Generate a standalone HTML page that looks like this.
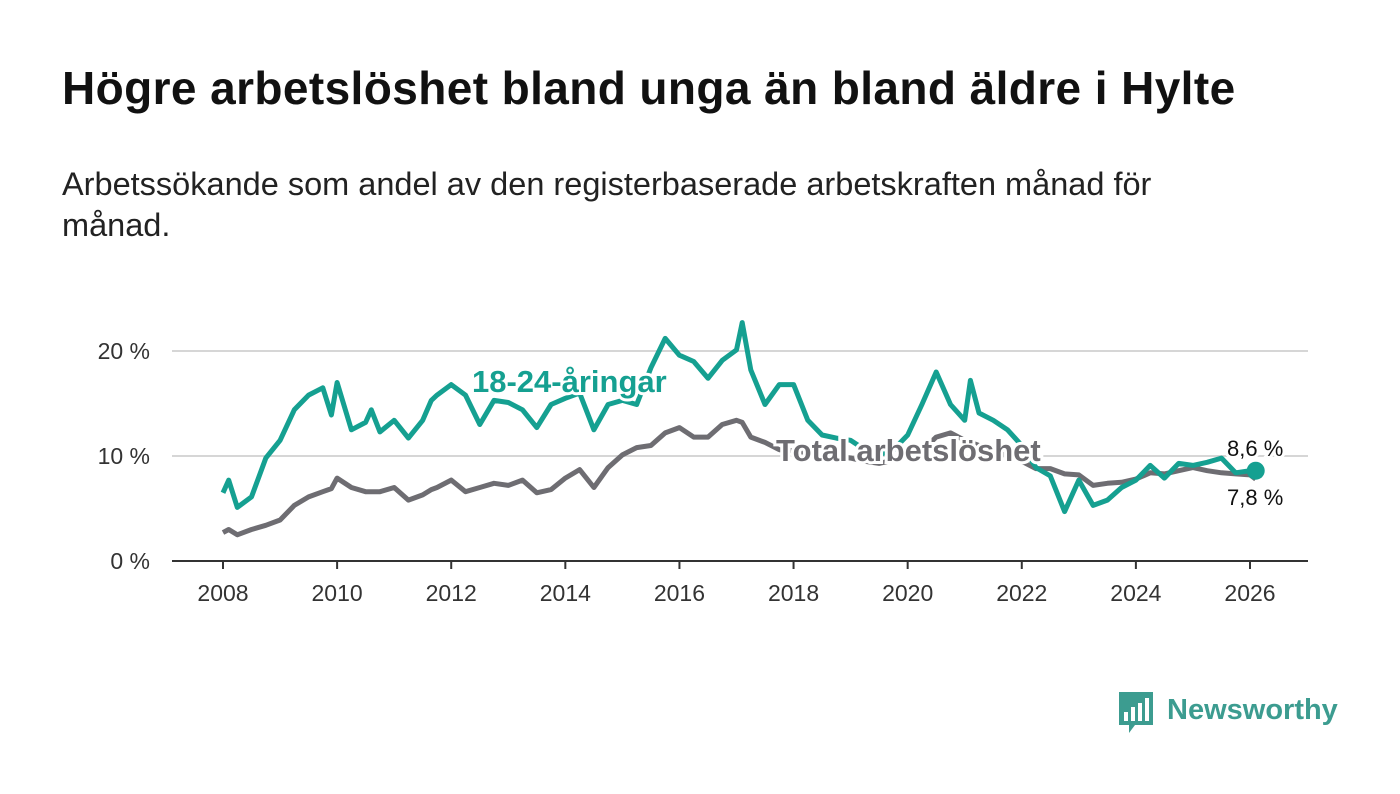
<!DOCTYPE html>
<html><head><meta charset="utf-8">
<style>
body{margin:0;width:1400px;height:794px;background:#fff;overflow:hidden;font-family:"Liberation Sans",sans-serif;}
#title{position:absolute;left:62px;top:62px;font-size:46px;font-weight:bold;color:#111;margin:0;letter-spacing:0.4px;line-height:52px}
#sub{position:absolute;left:62px;top:164px;width:1150px;font-size:32.5px;line-height:41px;color:#222;margin:0}
svg{position:absolute;left:0;top:0}
</style></head><body>
<h1 id="title">Högre arbetslöshet bland unga än bland äldre i Hylte</h1>
<p id="sub">Arbetssökande som andel av den registerbaserade arbetskraften månad för månad.</p>
<svg id="chart" width="1400" height="794"></svg>
<script>
const dates=[2008,2008.1,2008.25,2008.5,2008.75,2009,2009.25,2009.5,2009.75,2009.9,2010,2010.25,2010.5,2010.6,2010.75,2011,2011.25,2011.5,2011.65,2011.75,2012,2012.25,2012.5,2012.75,2013,2013.25,2013.5,2013.75,2014,2014.25,2014.5,2014.75,2015,2015.25,2015.5,2015.75,2016,2016.25,2016.5,2016.75,2017,2017.1,2017.25,2017.5,2017.75,2018,2018.25,2018.5,2018.75,2019,2019.25,2019.5,2019.75,2020,2020.25,2020.5,2020.75,2021,2021.1,2021.25,2021.5,2021.75,2022,2022.25,2022.5,2022.75,2023,2023.25,2023.5,2023.75,2024,2024.25,2024.5,2024.75,2025,2025.25,2025.5,2025.75,2026,2026.1];
const youth=[6.5,7.7,5.1,6.1,9.8,11.5,14.4,15.8,16.5,13.9,17,12.5,13.2,14.4,12.3,13.4,11.7,13.4,15.3,15.8,16.8,15.8,13,15.3,15.1,14.4,12.7,14.9,15.5,16,12.5,14.9,15.3,14.9,18.4,21.2,19.6,19,17.4,19.1,20.1,22.7,18.2,14.9,16.8,16.8,13.4,12,11.7,11.5,10.6,10.1,10.6,12,14.9,18,14.9,13.4,17.2,14.1,13.4,12.5,11,8.9,8.1,4.7,7.7,5.3,5.8,7,7.7,9.1,7.9,9.3,9.1,9.4,9.8,8.4,8.6,8.6];
const total=[2.7,3,2.5,3,3.4,3.9,5.3,6.1,6.6,6.9,7.9,7,6.6,6.6,6.6,7,5.8,6.3,6.8,7,7.7,6.6,7,7.4,7.2,7.7,6.5,6.8,7.9,8.7,7,8.9,10.1,10.8,11,12.2,12.7,11.8,11.8,13,13.4,13.2,11.8,11.3,10.6,10.5,10.3,10.2,10,9.8,9.5,9.3,9.6,10,10.5,11.8,12.2,11.5,11.3,11,10.5,10,9.5,8.8,8.8,8.3,8.2,7.2,7.4,7.5,7.8,8.4,8.3,8.6,8.9,8.6,8.4,8.3,8.2,7.8];
const yTicks=[0,10,20];
const xTicks=[2008,2010,2012,2014,2016,2018,2020,2022,2024,2026];
const NS="http://www.w3.org/2000/svg";
const svg=document.getElementById('chart');
const X=d=>223+(d-2008)*(1250-223)/18;
const Y=v=>561-v*10.5;
function mk(t,a,p){const e=document.createElementNS(NS,t);for(const k in a)e.setAttribute(k,a[k]);(p||svg).appendChild(e);return e;}
yTicks.forEach(v=>{
  if(v>0){const g=mk('line',{x1:172,x2:1308,y1:Y(v),y2:Y(v),stroke:'#d6d6d6','stroke-width':2});
  
  }
  const t=mk('text',{x:150,y:Y(v)+8,'text-anchor':'end','font-size':23,fill:'#333'});t.textContent=v+' %';
  
  
});
const ax=mk('line',{x1:172,x2:1308,y1:561,y2:561,stroke:'#333','stroke-width':2});


xTicks.forEach(d=>{
  mk('line',{x1:X(d),x2:X(d),y1:561,y2:569,stroke:'#333','stroke-width':2});
  const t=mk('text',{x:X(d),y:601,'text-anchor':'middle','font-size':23,fill:'#333'});t.textContent=d;
  
  
});
function path(vals){return vals.map((v,i)=>(i?'L':'M')+X(dates[i]).toFixed(1)+','+Y(v).toFixed(1)).join('');}
const lt=mk('path',{d:path(total),fill:'none',stroke:'#6e6d72','stroke-width':5,'stroke-linejoin':'round'});


const ly=mk('path',{d:path(youth),fill:'none',stroke:'#15a091','stroke-width':5,'stroke-linejoin':'round'});


const n=dates.length-1;
const dot=mk('circle',{cx:X(dates[n]),cy:Y(youth[n]),r:9,fill:'#15a091'});


function lab(x,y,txt,col,name,size,bold,halo){
  const t=mk('text',{x:x,y:y,'font-size':size,'font-weight':bold?'bold':'normal',fill:col});
  if(halo){t.setAttribute('stroke','#fff');t.setAttribute('stroke-width',6);t.setAttribute('paint-order','stroke');}
  t.textContent=txt;
  
  
}
lab(472,392,'18-24-åringar','#15a091','youth-series-label',31,true,true);
lab(776,461,'Total arbetslöshet','#6e6d72','total-series-label',31,true,true);
lab(1227,456,'8,6 %','#111','youth-end-value',22,false,true);
lab(1227,505,'7,8 %','#111','total-end-value',22,false,true);
const lg=mk('g',{});


mk('path',{d:'M1119,692 h34 v33 h-18 l-6,8 v-8 h-10 z',fill:'#3c9c90'},lg);
[[1124,712],[1131,707],[1138,703],[1145,698]].forEach(r=>mk('rect',{x:r[0],y:r[1],width:4,height:721-r[1],fill:'#fff'},lg));
const lt2=mk('text',{x:1167,y:719,'font-size':29,'font-weight':'bold',fill:'#3c9c90'},lg);lt2.textContent='Newsworthy';
</script>
</body></html>
